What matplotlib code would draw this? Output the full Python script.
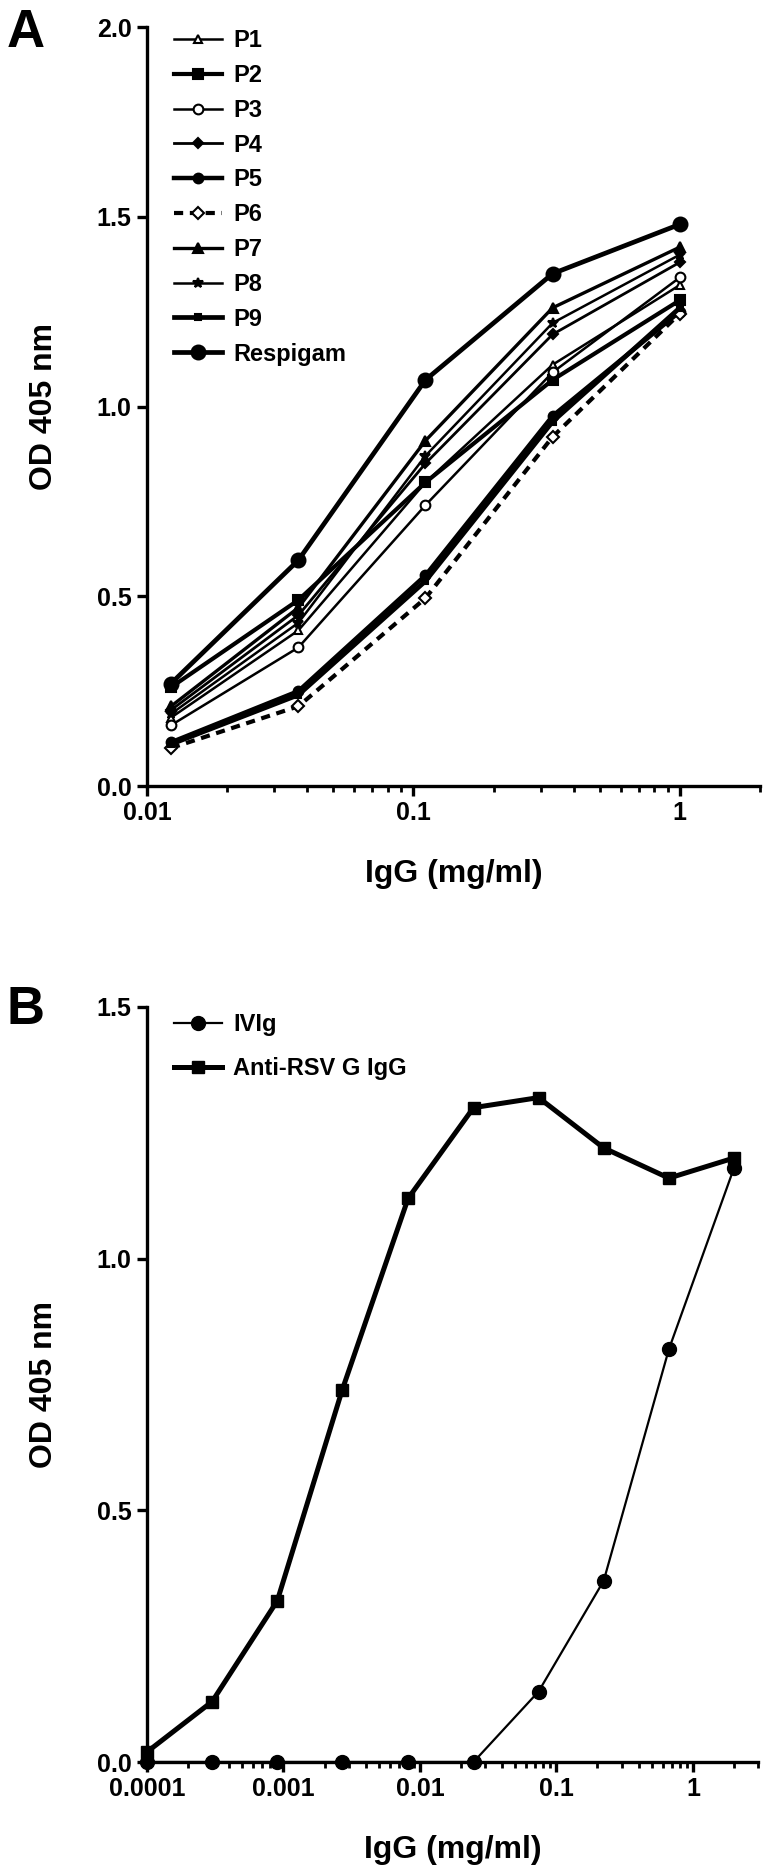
import matplotlib
matplotlib.use("Agg")
import matplotlib.pyplot as plt
from matplotlib.ticker import LogLocator, FixedLocator, FixedFormatter, NullFormatter

plt.rcParams['font.family'] = ['Liberation Sans', 'DejaVu Sans']
plt.rcParams['font.weight'] = 'bold'

# Panel A data: 3-fold dilutions of IgG
conc_a = [0.0123, 0.037, 0.111, 0.333, 1.0]
labels_a = ['P1', 'P2', 'P3', 'P4', 'P5', 'P6', 'P7', 'P8', 'P9', 'Respigam']
p1 = [0.18, 0.41, 0.80, 1.11, 1.32]
p2 = [0.26, 0.49, 0.80, 1.07, 1.28]
p3 = [0.16, 0.365, 0.74, 1.09, 1.34]
p4 = [0.20, 0.45, 0.85, 1.19, 1.38]
p5 = [0.115, 0.25, 0.555, 0.975, 1.25]
p6 = [0.10, 0.21, 0.495, 0.92, 1.245]
p7 = [0.21, 0.47, 0.91, 1.26, 1.42]
p8 = [0.19, 0.43, 0.87, 1.22, 1.40]
p9 = [0.11, 0.24, 0.54, 0.96, 1.26]
respigam = [0.27, 0.595, 1.07, 1.35, 1.48]
series_a = [p1, p2, p3, p4, p5, p6, p7, p8, p9, respigam]

# Panel B data
conc_b = [0.0001, 0.0003, 0.0009, 0.0027, 0.0082, 0.0247, 0.074, 0.222, 0.667, 2.0]
ivig = [0, 0, 0, 0, 0, 0, 0.14, 0.36, 0.82, 1.18]
anti_rsv = [0.02, 0.12, 0.32, 0.74, 1.12, 1.30, 1.32, 1.22, 1.16, 1.20]

# marker, filled, linewidth, linestyle, markersize
styles_a = [
    ('^', False, 1.8, '-', 6),
    ('s', True, 3.0, '-', 7),
    ('o', False, 1.8, '-', 7),
    ('D', True, 2.0, '-', 5),
    ('o', True, 3.2, '-', 7),
    ('D', False, 3.0, (0, (2.2, 1.6)), 6),
    ('^', True, 2.4, '-', 7),
    ('*', True, 1.8, '-', 7),
    ('s', True, 3.4, '-', 4),
    ('o', True, 3.4, '-', 10),
]

fig = plt.figure(figsize=(7.68, 18.70), dpi=100)

def style_axes(ax):
    for side in ['top', 'right']:
        ax.spines[side].set_visible(False)
    for side in ['left', 'bottom']:
        ax.spines[side].set_linewidth(2.4)
    ax.tick_params(which='major', length=7, width=2.4, labelsize=18, pad=4)
    ax.tick_params(which='minor', length=4, width=2.0)
    for lab in ax.get_xticklabels() + ax.get_yticklabels():
        lab.set_fontweight('bold')

# ---- Panel A ----
ax1 = fig.add_axes([147/768, 1 - 786/1870, (760-147)/768, (786-27)/1870])
for lab, y, (m, filled, lw, ls, ms) in zip(labels_a, series_a, styles_a):
    ax1.plot(conc_a, y, color='black', marker=m, linestyle=ls, linewidth=lw,
             markersize=ms, markerfacecolor='black' if filled else 'white',
             markeredgecolor='black', markeredgewidth=1.5, label=lab, clip_on=False)
ax1.set_xscale('log')
ax1.set_xlim(0.01, 2)
ax1.set_ylim(0, 2.0)
ax1.set_yticks([0.0, 0.5, 1.0, 1.5, 2.0])
ax1.set_yticklabels(['0.0', '0.5', '1.0', '1.5', '2.0'])
ax1.xaxis.set_major_locator(FixedLocator([0.01, 0.1, 1]))
ax1.xaxis.set_major_formatter(FixedFormatter(['0.01', '0.1', '1']))
ax1.xaxis.set_minor_locator(LogLocator(base=10, subs=range(2, 10)))
ax1.xaxis.set_minor_formatter(NullFormatter())
ax1.set_xlabel('IgG (mg/ml)', fontsize=23, fontweight='bold', labelpad=24)
ax1.set_ylabel('OD 405 nm', fontsize=23, fontweight='bold', labelpad=27)
style_axes(ax1)
ax1.legend(loc='upper left', bbox_to_anchor=(0.01, 1.025), frameon=False,
           handlelength=2.0, handletextpad=0.5, labelspacing=0.5,
           prop={'weight': 'bold', 'size': 17})
fig.text(7/768, 1 - 8/1870, 'A', fontsize=38, fontweight='bold', va='top', ha='left')

# ---- Panel B ----
ax2 = fig.add_axes([147/768, 1 - 1762/1870, (758-147)/768, (1762-1007)/1870])
ax2.plot(conc_b, ivig, color='black', marker='o', linewidth=1.6, markersize=10,
         label='IVIg', clip_on=False)
ax2.plot(conc_b, anti_rsv, color='black', marker='s', linewidth=3.6, markersize=9,
         label='Anti-RSV G IgG', clip_on=False)
ax2.set_xscale('log')
ax2.set_xlim(0.0001, 3)
ax2.set_ylim(0, 1.5)
ax2.set_yticks([0.0, 0.5, 1.0, 1.5])
ax2.set_yticklabels(['0.0', '0.5', '1.0', '1.5'])
ax2.xaxis.set_major_locator(FixedLocator([0.0001, 0.001, 0.01, 0.1, 1]))
ax2.xaxis.set_major_formatter(FixedFormatter(['0.0001', '0.001', '0.01', '0.1', '1']))
ax2.xaxis.set_minor_locator(LogLocator(base=10, subs=range(2, 10)))
ax2.xaxis.set_minor_formatter(NullFormatter())
ax2.set_xlabel('IgG (mg/ml)', fontsize=23, fontweight='bold', labelpad=24)
ax2.set_ylabel('OD 405 nm', fontsize=23, fontweight='bold', labelpad=27)
style_axes(ax2)
ax2.legend(loc='upper left', bbox_to_anchor=(0.01, 1.02), frameon=False,
           handlelength=2.0, handletextpad=0.5, labelspacing=0.9,
           prop={'weight': 'bold', 'size': 17})
fig.text(7/768, 1 - 985/1870, 'B', fontsize=38, fontweight='bold', va='top', ha='left')

fig.savefig('out.png', dpi=100)
